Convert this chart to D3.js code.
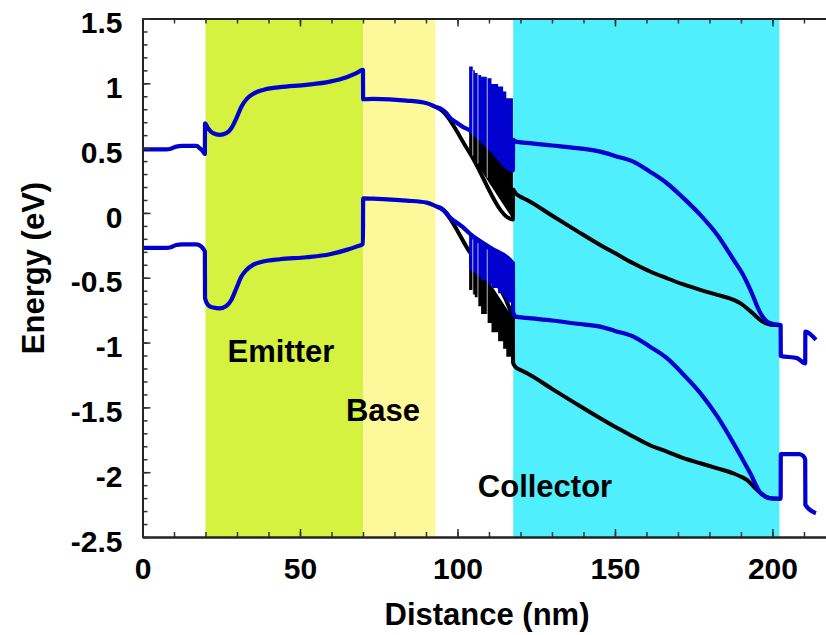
<!DOCTYPE html>
<html>
<head>
<meta charset="utf-8">
<script src="https://cdn.jsdelivr.net/npm/d3@7.9.0/dist/d3.min.js"></script>
<style>
  html, body { margin: 0; padding: 0; background: #fff; }
  svg text { font-family: "Liberation Sans", Arial, sans-serif; font-weight: bold; fill: #000; }
</style>
</head>
<body>
<svg id="chart" width="826" height="635"></svg>
<script>
// Layer names and where they sit (nm)
const regionNames = ['Emitter', 'Base', 'Collector'];
const regionStart = [20, 70.1, 117.7];
const regionEnd = [70.1, 93, 202.2];
const regionColors = ['#d4f23f', '#fdf99b', '#50effd'];

// Band edges [distance nm, energy eV]
// blue = conduction / valence band of the device, black = the reference profile
const cbBlue = [[0,0.49],[7.5,0.49],[9,0.495],[10.7,0.512],[12.7,0.517],[17.2,0.517],[18.1,0.50],[19.2,0.475],
  [19.8,0.455],[19.85,0.692],[20.8,0.653],[22.4,0.615],[24.5,0.602],[26.6,0.615],[28.2,0.653],[29.8,0.73],
  [31.4,0.82],[33,0.877],[35.1,0.918],[38.3,0.949],[43.6,0.97],[52,0.988],[59.5,1.013],[64.8,1.047],
  [67.9,1.078],[70,1.103],[70.05,0.877],[73.2,0.88],[83.8,0.867],[90.2,0.846],[93.4,0.815],[95,0.80],
  [96.5,0.77],[97.6,0.735],[99.5,0.70],[101.7,0.664],[103.7,0.64],[110.6,0.49],[117.6,0.33],[117.65,0.563],
  [118.5,0.55],[122,0.54],[130,0.52],[138,0.50],[145.3,0.473],[150,0.44],[155.8,0.396],[161,0.32],
  [166.5,0.229],[171.5,0.12],[177.1,-0.015],[182.5,-0.17],[187.7,-0.363],[190.5,-0.47],[193,-0.594],
  [196.2,-0.774],[198.3,-0.838],[200.3,-0.857],[202.6,-0.864],[202.65,-1.103],[207.8,-1.12],[210.4,-1.16],
  [210.45,-0.916],[213.8,-0.98]];

const vbBlue = [[0,-0.27],[7.5,-0.27],[9,-0.265],[10.7,-0.248],[12.7,-0.242],[17.2,-0.243],[18.7,-0.26],
  [19.5,-0.285],[19.8,-0.298],[19.85,-0.658],[20.8,-0.71],[22.4,-0.73],[24.5,-0.736],[26.6,-0.718],
  [28.2,-0.671],[29.8,-0.581],[31.4,-0.491],[33,-0.44],[35.1,-0.401],[38.3,-0.375],[43.6,-0.357],
  [52,-0.342],[59.5,-0.319],[64.8,-0.285],[67.9,-0.26],[70,-0.239],[70.05,0.113],[73.2,0.11],[83.8,0.095],
  [90.2,0.08],[93.4,0.049],[95,0.035],[96.5,0.0],[97.6,-0.035],[99.5,-0.07],[101.7,-0.11],[103.7,-0.155],
  [110.6,-0.27],[117.6,-0.388],[117.65,-0.76],[118.5,-0.80],[122,-0.81],[130,-0.83],[138,-0.855],
  [145.3,-0.877],[150,-0.91],[155.9,-0.954],[161,-1.03],[166.5,-1.12],[171.5,-1.24],[177.1,-1.39],
  [182.5,-1.57],[187.7,-1.78],[190.5,-1.90],[193,-2.01],[196.2,-2.16],[198.3,-2.195],[200.3,-2.205],
  [202.6,-2.205],[202.65,-1.86],[208.5,-1.86],[209.8,-1.875],[210.4,-1.906],[210.45,-2.253],[213.8,-2.317]];

const cbBlack = [[93.4,0.815],[95,0.79],[103.7,0.47],[117.6,-0.05],[117.65,0.18],[118.5,0.15],[120,0.125],
  [122.1,0.10],[130,-0.02],[138,-0.14],[145.3,-0.247],[150,-0.31],[155.8,-0.388],[161,-0.45],[166.5,-0.504],
  [171.5,-0.55],[177.1,-0.594],[182.5,-0.632],[187.7,-0.671],[190,-0.70],[191.9,-0.735],[194,-0.78],
  [196.2,-0.826],[198,-0.853],[199.4,-0.862],[202.6,-0.866]];

const vbBlack = [[93.4,0.049],[95,0.03],[103.7,-0.295],[117.6,-0.81],[117.65,-1.157],[118.5,-1.19],
  [120,-1.212],[122.1,-1.237],[130,-1.357],[138,-1.477],[145.3,-1.584],[150,-1.65],[155.9,-1.726],
  [161,-1.79],[166.5,-1.842],[171.5,-1.89],[177.1,-1.931],[182.5,-1.97],[187.7,-2.01],[190,-2.035],
  [191.9,-2.06],[194,-2.11],[196.2,-2.16],[198,-2.19],[199.4,-2.20],[202.6,-2.205]];

// Spike (barrier) steps in the graded region: step edges and level of each step
const stepEdges = [103.7, 104.85, 105.5, 106.5, 107.5, 109.45, 110.8, 112.9, 114.5, 115.5, 117.6];
const cbSpikeTop = [1.129, 1.10, 1.08, 1.065, 1.05, 1.039, 0.995, 0.975, 0.936, 0.885];
const vbSpikeBlue = [-0.44, -0.46, -0.47, -0.49, -0.52, -0.55, -0.58, -0.62, -0.65, -0.69];
const vbSpikeBlack = [-0.594, -0.63, -0.65, -0.72, -0.78, -0.85, -0.92, -0.99, -1.047, -1.11];
// thin openings between the first barriers
const spikeGaps = [104.85, 106.5, 109.45];

// Axis ticks
const xMajorTicks = [0, 50, 100, 150, 200];
const xMinorTicks = d3.range(0, 211, 10);
const yMajorTicks = [-2.5, -2, -1.5, -1, -0.5, 0, 0.5, 1, 1.5];
const yMinorTicks = d3.range(-25, 16).map(d => d / 10);

const svg = d3.select('#chart');
const x = d3.scaleLinear().domain([0, 217]).range([142.5, 826]);
const y = d3.scaleLinear().domain([-2.5, 1.5]).range([537, 18.5]);

const BLUE = '#0000cf';

// value of a curve at distance xv (linear)
function valueAt(curve, xv) {
  let i = d3.bisector(d => d[0]).right(curve, xv);
  i = Math.max(1, Math.min(curve.length - 1, i));
  const a = curve[i - 1], b = curve[i];
  const t = (xv - a[0]) / (b[0] - a[0]);
  return a[1] + (b[1] - a[1]) * Math.max(0, Math.min(1, t));
}

// background layers
regionNames.forEach((name, i) => {
  svg.append('rect')
    .attr('x', x(regionStart[i]))
    .attr('y', y(1.5))
    .attr('width', x(regionEnd[i]) - x(regionStart[i]))
    .attr('height', y(-2.5) - y(1.5))
    .attr('fill', regionColors[i]);
});

const line = d3.line().x(d => x(d[0])).y(d => y(d[1])).curve(d3.curveMonotoneX);

// one filled shape: staircase on one side, base curve on the other
function drawSteps(base, levelAt, color) {
  const outer = [];
  for (let i = 0; i < stepEdges.length - 1; i++) {
    outer.push([stepEdges[i], levelAt(stepEdges[i], i)]);
    outer.push([stepEdges[i + 1], levelAt(stepEdges[i + 1], i)]);
  }
  const inner = base.filter(d => d[0] > stepEdges[0] && d[0] < stepEdges[stepEdges.length - 1]);
  const back = [[stepEdges[stepEdges.length - 1], valueAt(base, stepEdges[stepEdges.length - 1])]]
    .concat(inner.slice().reverse())
    .concat([[stepEdges[0], valueAt(base, stepEdges[0])]]);
  const pts = outer.concat(back);
  const path = 'M' + pts.map(d => `${x(d[0]).toFixed(2)},${y(d[1]).toFixed(2)}`).join('L') + 'Z';
  svg.append('path').attr('d', path).attr('fill', color);
}

// black profile first
drawSteps(cbBlack, xv => valueAt(cbBlue, xv), '#000');
drawSteps(vbBlack, (xv, i) => vbSpikeBlack[i], '#000');
[cbBlack, vbBlack].forEach(c => {
  svg.append('path').attr('d', line(c))
    .attr('fill', 'none').attr('stroke', '#000').attr('stroke-width', 4)
    .attr('stroke-linejoin', 'round');
});

// blue on top
drawSteps(cbBlue, (xv, i) => cbSpikeTop[i], BLUE);
drawSteps(vbBlue, (xv, i) => vbSpikeBlue[i], BLUE);
[cbBlue, vbBlue].forEach(c => {
  svg.append('path').attr('d', line(c))
    .attr('fill', 'none').attr('stroke', BLUE).attr('stroke-width', 4.2)
    .attr('stroke-linejoin', 'round');
});

// openings between the first barriers
spikeGaps.forEach(g => {
  [[valueAt(cbBlack, g), d3.max(cbSpikeTop)], [d3.min(vbSpikeBlack), valueAt(vbBlue, g)]].forEach(([lo, hi]) => {
    svg.append('line')
      .attr('x1', x(g)).attr('x2', x(g))
      .attr('y1', y(hi) + 4).attr('y2', y(lo) - 2)
      .attr('stroke', '#fff').attr('stroke-width', 0.9).attr('stroke-opacity', 0.8);
  });
});

// axes, ticks pointing inward
function styleAxis(g) {
  g.select('.domain').attr('stroke', '#222').attr('stroke-width', 1.8);
  g.selectAll('.tick line').attr('stroke', '#333').attr('stroke-width', 1.5);
}

const bottomMinor = svg.append('g').attr('transform', `translate(0,${y(-2.5)})`)
  .call(d3.axisBottom(x).tickValues(xMinorTicks).tickSize(-5).tickSizeOuter(0).tickFormat(''));
styleAxis(bottomMinor);
const bottomMajor = svg.append('g').attr('transform', `translate(0,${y(-2.5)})`)
  .call(d3.axisBottom(x).tickValues(xMajorTicks).tickSize(-8).tickSizeOuter(0).tickPadding(21));
styleAxis(bottomMajor);
bottomMajor.selectAll('text').style('font-size', '30px').attr('fill', '#000');

const topMinor = svg.append('g').attr('transform', `translate(0,${y(1.5)})`)
  .call(d3.axisTop(x).tickValues(xMinorTicks).tickSize(-5).tickSizeOuter(0).tickFormat(''));
styleAxis(topMinor);
const topMajor = svg.append('g').attr('transform', `translate(0,${y(1.5)})`)
  .call(d3.axisTop(x).tickValues(xMajorTicks).tickSize(-8).tickSizeOuter(0).tickFormat(''));
styleAxis(topMajor);

const leftMinor = svg.append('g').attr('transform', `translate(${x(0)},0)`)
  .call(d3.axisLeft(y).tickValues(yMinorTicks).tickSize(-5).tickSizeOuter(0).tickFormat(''));
styleAxis(leftMinor);
const leftMajor = svg.append('g').attr('transform', `translate(${x(0)},0)`)
  .call(d3.axisLeft(y).tickValues(yMajorTicks).tickSize(-8).tickSizeOuter(0).tickPadding(20)
    .tickFormat(d => String(d)));
styleAxis(leftMajor);
leftMajor.selectAll('text').style('font-size', '30px').attr('dy', '0.47em').attr('fill', '#000');

// axis titles
svg.append('text')
  .attr('x', 487).attr('y', 625)
  .attr('text-anchor', 'middle')
  .style('font-size', '31px')
  .text('Distance (nm)');

svg.append('text')
  .attr('transform', 'translate(43.5,268) rotate(-90)')
  .attr('text-anchor', 'middle')
  .style('font-size', '31px')
  .text('Energy (eV)');

// layer labels
const labelX = [281, 383, 545];
const labelY = [362, 421, 497];
regionNames.forEach((name, i) => {
  svg.append('text')
    .attr('x', labelX[i]).attr('y', labelY[i])
    .attr('text-anchor', 'middle')
    .style('font-size', '31px')
    .text(name);
});
</script>
</body>
</html>
